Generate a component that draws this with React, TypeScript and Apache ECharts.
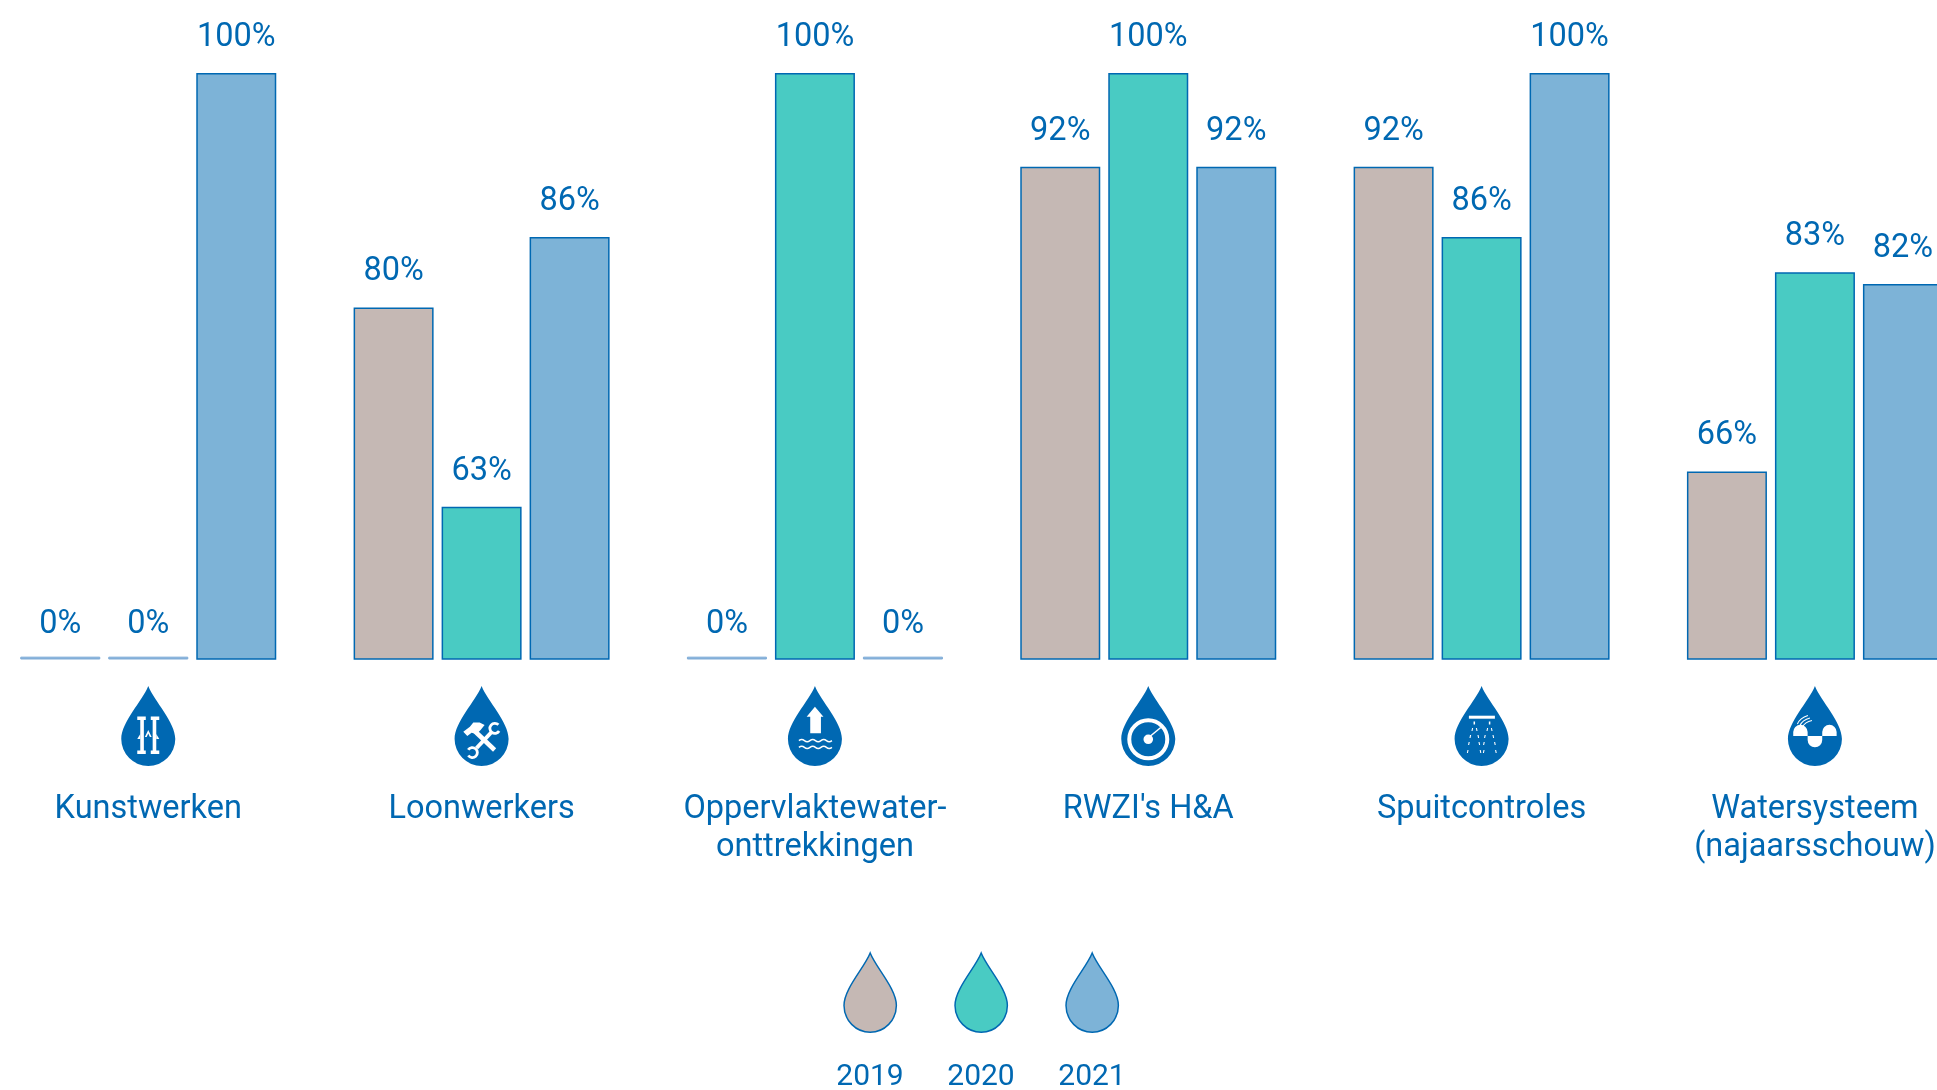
import React, { useEffect, useRef } from "react";
import * as echarts from "echarts";

const categories = ["Kunstwerken", "Loonwerkers", "Oppervlaktewater-\nonttrekkingen", "RWZI's H&A", "Spuitcontroles", "Watersysteem\n(najaarsschouw)"];
const years = ["2019", "2020", "2021"];
const values2019 = [0, 80, 0, 92, 92, 66];
const values2020 = [0, 63, 100, 100, 86, 83];
const values2021 = [100, 86, 0, 92, 100, 82];
const yearColors = ["#c5b8b4", "#49cbc3", "#7db3d7"];
const BLUE = "#0068b2";
const FONT = "Roboto";
const AXIS_MIN = 50;
const BASELINE_VALUE = 50.2;
const DROP = "M27 0C33 15 54 36 54 53A27 27 0 1 1 0 53C0 36 21 15 27 0Z";

echarts.graphic.registerShape("drop", echarts.graphic.extendPath(DROP, {}));

const fillD = (d: string) => ({ type: "path", shape: { pathData: d }, style: { fill: "#fff" } });
const lineD = (d: string, w: number) => ({ type: "path", shape: { pathData: d }, style: { fill: "none", stroke: "#fff", lineWidth: w } });

const iconParts: any[][] = [
  [
    fillD("M16 30.5H24.5V34H22.6V64.5H24.5V68H16V64.5H19V34H16Z"),
    fillD("M29.5 30.5H38V34H35V64.5H38V68H29.5V64.5H31.4V34H29.5Z"),
    fillD("M23.6 51L27 44L30.4 51H28.6L27 47.6L25.4 51Z"),
    fillD("M16 53L19 48V53Z"),
    fillD("M38 53L35 48V53Z"),
  ],
  [
    lineD("M19 44L40 64", 4.5),
    fillD("M8.7 45.7L12.7 50L17 46.7L22 48L26 44L30 39L25 36.5H18.7L15.3 40.7Z"),
    lineD("M37.5 45.5L22 62", 4),
    lineD("M43.8 38.8A5 5 0 1 0 44.5 45", 2.8),
    lineD("M13.7 69.5A5 5 0 1 0 13.6 63.8", 2.8),
  ],
  [
    fillD("M27 20.7L35.5 30.7H33V47.3H22.3V30.7H18.7Z"),
    lineD("M11 54.7Q13.75 52.5 16.5 54.7T22 54.7T27.5 54.7T33 54.7T38.5 54.7T44 54.7", 1.5),
    lineD("M11 61.3Q13.75 59.1 16.5 61.3T22 61.3T27.5 61.3T33 61.3T38.5 61.3T44 61.3", 1.5),
  ],
  [
    lineD("M8 53.3A19 19 0 1 1 46 53.3A19 19 0 1 1 8 53.3Z", 4),
    fillD("M22.2 53.3A4.8 4.8 0 1 1 31.8 53.3A4.8 4.8 0 1 1 22.2 53.3Z"),
    lineD("M28 51L39.5 41.5", 1.5),
  ],
  [
    fillD("M14.3 29.7H40.3V32.7H14.3Z"),
    lineD("M19.7 35.5V38.5M35 35.5V38.5", 1.5),
    lineD("M18 42L17.4 45M21.8 42L22.4 45M33 42L32.4 45M36.8 42L37.4 45", 1.1),
    lineD("M16 49L15.4 52M23.4 49L24 52M30.6 49L30 52M38.4 49L39 52", 1.1),
    lineD("M14.6 56L14 59M24.4 56L25 59M29.6 56L29 59M40 56L40.6 59", 1.1),
    lineD("M13.4 64L12.8 67M25.6 64L26.2 67M29.4 64L28.8 67M41 64L41.6 67", 1.1),
  ],
  [
    fillD("M5.3 50V46A7.2 7.2 0 0 1 19.7 46V50Z"),
    fillD("M34.3 50V46A7.2 7.2 0 0 1 48.7 46V50Z"),
    fillD("M19.7 50H34.3V54A7.3 7.3 0 0 1 19.7 54Z"),
    lineD("M9.5 38Q12 32 20 29.5M12 39.5Q14.5 34 22 32M14.5 41Q17 36 24 34.5", 1.1),
  ],
];

// The axis starts at 50, so a 0 sits on the baseline while its label still reads 0%.
const barData = (vals: number[]) =>
  vals.map((v) =>
    v < AXIS_MIN
      ? { value: BASELINE_VALUE, itemStyle: { color: "#82aed8", borderColor: "#82aed8", borderWidth: 1 }, label: { distance: 18 } }
      : v
  );

export default function App() {
  const ref = useRef<HTMLDivElement>(null);
  useEffect(() => {
    const chart = echarts.init(ref.current!, undefined, { renderer: "svg" });
    const bars = [values2019, values2020, values2021].map((vals, i) => ({
      name: years[i],
      type: "bar" as const,
      data: barData(vals),
      barWidth: 80,
      barGap: "10%",
      clip: true,
      itemStyle: { color: yearColors[i], borderColor: BLUE, borderWidth: 1.5 },
      label: {
        show: true,
        position: "top" as const,
        distance: 21.5,
        formatter: (p: any) => `${vals[p.dataIndex]}%`,
        color: BLUE,
        fontFamily: FONT,
        fontSize: 32.5,
      },
    }));
    const icons = {
      type: "custom" as const,
      silent: true,
      clip: false,
      data: categories.map((_, i) => [i, AXIS_MIN]),
      renderItem: (_: any, api: any) => {
        const p = api.coord([api.value(0), api.value(1)]);
        return {
          type: "group",
          x: p[0] - 27,
          y: p[1] + 27,
          children: [
            { type: "path", shape: { pathData: DROP }, style: { fill: BLUE } },
            ...iconParts[api.value(0)],
          ],
        };
      },
    };
    chart.setOption({
      animation: false,
      grid: { left: -18.4, right: -44.6, top: 73, bottom: 431, outerBoundsMode: "none" },
      xAxis: {
        type: "category",
        data: categories,
        axisLine: { show: false },
        axisTick: { show: false },
        axisLabel: { color: BLUE, fontFamily: FONT, fontSize: 32.5, lineHeight: 38, margin: 129, interval: 0, verticalAlign: "top", hideOverlap: false },
      },
      yAxis: { type: "value", min: AXIS_MIN, max: 100, show: false, splitLine: { show: false } },
      series: [...bars, icons],
      graphic: years.flatMap((y, i) => [
        { type: "drop", x: 844 + i * 111, y: 953, scaleX: 0.97, scaleY: 0.99, style: { fill: yearColors[i], stroke: BLUE, lineWidth: 1.5 } },
        { type: "text", x: 870 + i * 111, y: 1074, style: { text: y, fill: BLUE, font: `30px ${FONT}`, textAlign: "center", textVerticalAlign: "middle" } },
      ]),
    });
    return () => chart.dispose();
  }, []);
  return <div ref={ref} style={{ position: "fixed", left: 0, top: 0, width: 1937, height: 1090 }} />;
}
